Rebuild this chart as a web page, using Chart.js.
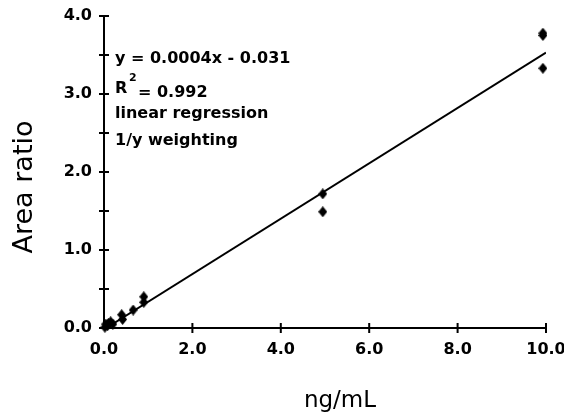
<!DOCTYPE html>
<html>
<head>
<meta charset="utf-8">
<script src="https://cdn.jsdelivr.net/npm/chart.js@4/dist/chart.umd.min.js"></script>
<style>
  html, body { margin: 0; padding: 0; background: #fff; }
  #wrap { width: 564px; height: 412px; }
</style>
</head>
<body>
<div id="wrap"><canvas id="calib" width="564" height="412"></canvas></div>
<script>
// calibration points (ng/mL vs area ratio)
const concX = [0.02, 0.04, 0.08, 0.10, 0.15, 0.20, 0.40, 0.42, 0.66, 0.90, 0.90, 4.95, 4.95, 9.93, 9.93, 9.93];
const ratioY = [0.01, 0.05, 0.03, 0.06, 0.08, 0.05, 0.17, 0.11, 0.23, 0.40, 0.33, 1.72, 1.49, 3.78, 3.75, 3.33];
// regression line ends
const fitX = [0.05, 10];
const fitY = [0.0, 3.53];
const annotLines = ['y = 0.0004x - 0.031', 'R', '2', '= 0.992', 'linear regression', '1/y weighting'];
const xTitle = 'ng/mL';
const yTitle = 'Area ratio';

const BOLD = 'bold 16px "DejaVu Sans", sans-serif';

// slim diamond marker
function diamond(w, h) {
    const c = document.createElement('canvas');
    c.width = w; c.height = h;
    const g = c.getContext('2d');
    g.fillStyle = '#000';
    g.beginPath();
    g.moveTo(w / 2, 0);
    g.lineTo(w, h / 2);
    g.lineTo(w / 2, h);
    g.lineTo(0, h / 2);
    g.closePath();
    g.fill();
    return c;
}
const marker = diamond(9, 11);

// ticks crossing the axes, plus titles and the fit text
const decor = {
    id: 'decor',
    afterDraw(chart) {
        const {ctx, chartArea: a, scales: {x, y}} = chart;
        ctx.save();
        ctx.strokeStyle = '#000';
        ctx.lineWidth = 2;
        ctx.beginPath();
        y.ticks.forEach(t => {
            const py = y.getPixelForValue(t.value);
            ctx.moveTo(a.left - 5, py);
            ctx.lineTo(a.left + 5, py);
        });
        x.ticks.forEach(t => {
            if (t.value === 0) return;
            const px = x.getPixelForValue(t.value);
            ctx.moveTo(px, a.bottom - 5);
            ctx.lineTo(px, a.bottom + 5);
        });
        ctx.stroke();

        ctx.fillStyle = '#000';
        ctx.textAlign = 'left';
        ctx.textBaseline = 'alphabetic';
        ctx.font = BOLD;
        ctx.fillText(annotLines[0], 115, 63);
        ctx.fillText(annotLines[1], 115, 93);
        ctx.font = 'bold 11px "DejaVu Sans", sans-serif';
        ctx.fillText(annotLines[2], 129, 81);
        ctx.font = BOLD;
        ctx.fillText(annotLines[3], 138, 97);
        ctx.fillText(annotLines[4], 115, 118);
        ctx.fillText(annotLines[5], 115, 145);

        ctx.font = '23px "DejaVu Sans", sans-serif';
        ctx.textAlign = 'center';
        ctx.fillText(xTitle, 340, 407);
        ctx.font = '27px "DejaVu Sans", sans-serif';
        ctx.translate(32, 187);
        ctx.rotate(-Math.PI / 2);
        ctx.fillText(yTitle, 0, 0);
        ctx.restore();
    }
};

new Chart(document.getElementById('calib'), {
    type: 'scatter',
    data: {
        datasets: [
            {
                data: concX.map((v, i) => ({x: v, y: ratioY[i]})),
                pointStyle: marker,
                pointRadius: 5,
                clip: false
            },
            {
                type: 'line',
                data: fitX.map((v, i) => ({x: v, y: fitY[i]})),
                borderColor: '#000',
                borderWidth: 2,
                pointRadius: 0,
                fill: false
            }
        ]
    },
    options: {
        responsive: false,
        animation: false,
        layout: {padding: {top: 16, right: 18, left: 0, bottom: 0}},
        plugins: {legend: {display: false}, tooltip: {enabled: false}},
        scales: {
            x: {
                type: 'linear', min: 0, max: 10,
                grid: {display: false, drawTicks: false},
                border: {color: '#000', width: 2},
                ticks: {
                    stepSize: 2, padding: 12, color: '#000', font: {family: '"DejaVu Sans", sans-serif', size: 16, weight: 'bold'},
                    maxRotation: 0,
                    callback: v => v.toFixed(1)
                },
                afterFit: s => { s.height = 84; s.paddingLeft = 0; s.paddingRight = 0; }
            },
            y: {
                type: 'linear', min: 0, max: 4,
                grid: {display: false, drawTicks: false},
                border: {color: '#000', width: 2},
                ticks: {
                    stepSize: 0.5, padding: 12, color: '#000', font: {family: '"DejaVu Sans", sans-serif', size: 16, weight: 'bold'},
                    autoSkip: false,
                    callback: v => (v % 1 === 0 ? v.toFixed(1) : '')
                },
                afterFit: s => { s.width = 104; s.paddingTop = 0; s.paddingBottom = 0; }
            }
        }
    },
    plugins: [decor]
});
</script>
</body>
</html>
